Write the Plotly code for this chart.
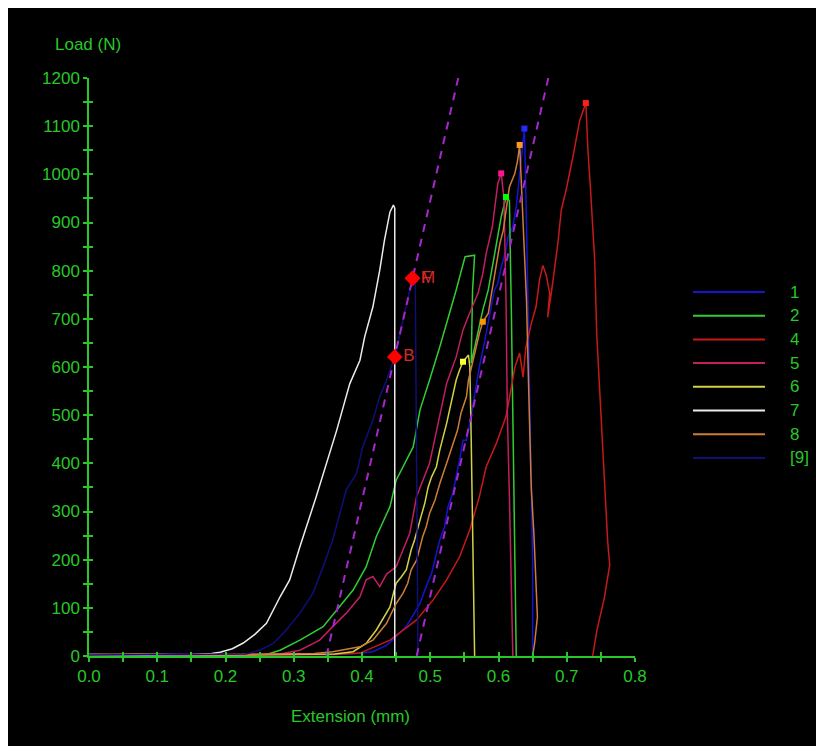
import plotly.graph_objects as go

# ---------------- data ----------------
series_names = ["1", "2", "4", "5", "6", "7", "8", "[9]"]

s1_x = [0.0, 0.06, 0.12, 0.2, 0.28, 0.35, 0.39, 0.416, 0.436, 0.450, 0.465, 0.475, 0.485, 0.494, 0.502,
        0.509, 0.514, 0.521, 0.526, 0.533, 0.538, 0.543, 0.548, 0.553, 0.558, 0.563, 0.567, 0.572, 0.580,
        0.587, 0.594, 0.599, 0.604, 0.611, 0.614, 0.621, 0.626, 0.631, 0.638, 0.641, 0.643, 0.646, 0.648,
        0.650, 0.650]
s1_y = [3, 2, 4, 3, 2, 3, 5, 9, 22, 40, 62, 85, 109, 144, 172,
        213, 241, 268, 310, 338, 372, 407, 448, 448, 483, 525, 566, 601, 656,
        705, 760, 773, 808, 843, 870, 891, 933, 1000, 1095, 900, 739, 550, 400,
        200, 0]

s2_x = [0.0, 0.08, 0.16, 0.22, 0.26, 0.28, 0.309, 0.343, 0.363, 0.387, 0.406, 0.421, 0.441, 0.450,
        0.475, 0.485, 0.499, 0.514, 0.538, 0.551, 0.565, 0.562, 0.560, 0.565, 0.572, 0.577, 0.585,
        0.594, 0.604, 0.611, 0.616, 0.619, 0.621, 0.624, 0.626]
s2_y = [2, 3, 2, 3, 3, 12, 33, 61, 95, 137, 185, 248, 310, 365,
        434, 511, 573, 642, 760, 829, 832, 760, 608, 640, 690, 718, 760,
        829, 912, 953, 945, 700, 450, 200, 0]

s4_x = [0.0, 0.1, 0.2, 0.3, 0.36, 0.397, 0.416, 0.441, 0.455, 0.480, 0.504, 0.524, 0.543, 0.558,
        0.572, 0.582, 0.597, 0.611, 0.619, 0.624, 0.631, 0.636, 0.640, 0.648, 0.655, 0.660, 0.665,
        0.670, 0.675, 0.672, 0.678, 0.687, 0.692, 0.699, 0.709, 0.719, 0.728, 0.731, 0.735, 0.741,
        0.744, 0.749, 0.754, 0.760, 0.763, 0.755, 0.744, 0.738]
s4_y = [2, 3, 2, 3, 3, 6, 17, 33, 48, 75, 116, 158, 206, 262,
        331, 393, 442, 497, 559, 600, 629, 579, 640, 690, 725, 780, 811,
        790, 753, 703, 760, 857, 926, 967, 1036, 1112, 1148, 1050, 965, 820,
        666, 527, 382, 237, 189, 120, 52, 0]

s5_x = [0.0, 0.1, 0.2, 0.28, 0.309, 0.338, 0.357, 0.377, 0.397, 0.406, 0.416, 0.426, 0.436, 0.450,
        0.470, 0.480, 0.499, 0.514, 0.524, 0.538, 0.548, 0.560, 0.570, 0.577, 0.582, 0.591, 0.599,
        0.604, 0.608, 0.611, 0.613, 0.616, 0.619, 0.621]
s5_y = [3, 2, 3, 4, 12, 33, 61, 89, 123, 158, 165, 144, 170, 185,
        255, 331, 400, 504, 566, 621, 677, 720, 753, 794, 836, 891, 981,
        1002, 950, 739, 500, 330, 100, 0]

s6_x = [0.0, 0.1, 0.2, 0.3, 0.36, 0.387, 0.406, 0.421, 0.436, 0.441, 0.446, 0.450, 0.458, 0.465,
        0.472, 0.477, 0.485, 0.492, 0.497, 0.502, 0.509, 0.514, 0.524, 0.533, 0.538, 0.543, 0.548,
        0.556, 0.558, 0.560, 0.562, 0.564, 0.565]
s6_y = [2, 3, 2, 3, 4, 9, 26, 54, 89, 102, 130, 151, 165, 179,
        220, 241, 282, 317, 351, 372, 393, 428, 483, 538, 573, 594, 611,
        625, 600, 450, 300, 150, 0]

s7_x = [0.0, 0.08, 0.15, 0.18, 0.192, 0.21, 0.226, 0.243, 0.26, 0.28, 0.294, 0.309, 0.333, 0.363,
        0.382, 0.397, 0.404, 0.416, 0.426, 0.433, 0.441, 0.446, 0.448, 0.448]
s7_y = [3, 2, 3, 5, 8, 15, 27, 45, 68, 123, 158, 227, 331, 469,
        565, 614, 663, 725, 801, 864, 922, 936, 930, 0]

s8_x = [0.0, 0.07, 0.14, 0.22, 0.3, 0.33, 0.357, 0.397, 0.416, 0.436, 0.450, 0.460, 0.467, 0.472,
        0.480, 0.489, 0.494, 0.499, 0.507, 0.514, 0.524, 0.533, 0.540, 0.545, 0.553, 0.556, 0.567,
        0.572, 0.577, 0.585, 0.589, 0.592, 0.599, 0.602, 0.607, 0.616, 0.624, 0.628, 0.631, 0.633,
        0.636, 0.639, 0.641, 0.645, 0.648, 0.652, 0.655, 0.657, 0.653, 0.650]
s8_y = [3, 4, 2, 3, 4, 5, 9, 19, 33, 68, 109, 130, 151, 179,
        199, 248, 268, 296, 324, 358, 400, 441, 469, 504, 538, 573, 642,
        670, 694, 711, 746, 773, 836, 856, 884, 974, 1002, 1029, 1061, 1000,
        900, 800, 739, 510, 350, 250, 165, 81, 27, 0]

s9_x = [0.0, 0.09, 0.17, 0.23, 0.25, 0.270, 0.289, 0.309, 0.328, 0.343, 0.357, 0.367, 0.377, 0.392,
        0.401, 0.416, 0.426, 0.436, 0.448, 0.460, 0.474, 0.478, 0.479, 0.481, 0.482]
s9_y = [2, 3, 3, 4, 12, 26, 54, 89, 130, 185, 241, 296, 345, 379,
        434, 490, 538, 573, 621, 697, 784, 780, 500, 200, 0]

# modulus (slope) lines
mod1_x = [0.348, 0.541]
mod1_y = [0, 1200]
mod2_x = [0.480, 0.673]
mod2_y = [0, 1200]

# labelled points (B, F, M) on series [9]
pt_labels = ["B", "F", "M"]
pt_x = [0.448, 0.474, 0.474]
pt_y = [621, 784, 784]

# highlighted peak points of each series
peak_x = [0.638, 0.611, 0.728, 0.604, 0.548, 0.631, 0.577]
peak_y = [1095, 953, 1148, 1002, 611, 1061, 694]
peak_col = ["rgb(40,40,255)", "rgb(0,255,0)", "rgb(255,30,30)", "rgb(255,20,140)",
            "rgb(255,255,60)", "rgb(255,150,40)", "rgb(255,150,0)"]

x_range = [0, 0.8]
y_range = [0, 1200]

# ---------------- style ----------------
colors = ["rgb(20,20,210)", "rgb(50,205,50)", "rgb(200,25,25)", "rgb(195,30,95)",
          "rgb(210,210,70)", "rgb(235,235,235)", "rgb(205,125,55)", "rgb(15,15,120)"]
GREEN = "rgb(40,200,40)"
FONT = "Liberation Sans"

OFF = 8                      # page (body) margin of the html page
W, H = 812, 738
L, R, T, B = 81, 185, 70, 90
pw, ph = W - L - R, H - T - B


def px_x(p):
    """page pixel x -> paper coordinate"""
    return (p - OFF - L) / pw


def px_y(p):
    """page pixel y -> paper coordinate"""
    return (OFF + H - B - p) / ph


xs = [s1_x, s2_x, s4_x, s5_x, s6_x, s7_x, s8_x, s9_x]
ys = [s1_y, s2_y, s4_y, s5_y, s6_y, s7_y, s8_y, s9_y]

fig = go.Figure()

for name, x, y, c in zip(series_names, xs, ys, colors):
    fig.add_trace(go.Scatter(x=x, y=y, mode="lines", name=name,
                             line=dict(color=c, width=1.5), showlegend=False))

for mx, my in [(mod1_x, mod1_y), (mod2_x, mod2_y)]:
    fig.add_trace(go.Scatter(x=mx, y=my, mode="lines", showlegend=False,
                             line=dict(color="rgb(165,40,205)", width=2, dash="8px,7px")))

fig.add_trace(go.Scatter(x=peak_x, y=peak_y, mode="markers", showlegend=False,
                         marker=dict(color=peak_col, size=6, symbol="square")))

fig.add_trace(go.Scatter(x=pt_x, y=pt_y, mode="markers+text", showlegend=False,
                         marker=dict(color="rgb(255,0,0)", size=12, symbol="diamond"),
                         text=pt_labels, textposition="middle right",
                         textfont=dict(family=FONT, size=17, color="rgb(215,40,40)")))

# dummy trace for the mirrored-tick axes
fig.add_trace(go.Scatter(x=x_range, y=y_range, xaxis="x2", yaxis="y2", mode="lines",
                         line=dict(width=0), hoverinfo="skip", showlegend=False))

tickfont = dict(family=FONT, size=17, color=GREEN)
common = dict(showgrid=False, zeroline=False, tickcolor=GREEN, ticklen=4, tickwidth=1.5)

fig.update_layout(
    width=W, height=H,
    margin=dict(l=L, r=R, t=T, b=B),
    paper_bgcolor="black", plot_bgcolor="black",
    xaxis=dict(range=x_range, dtick=0.1, tick0=0, tickformat=".1f", showline=True,
               linecolor=GREEN, linewidth=1.5, ticks="outside", tickfont=tickfont,
               minor=dict(dtick=0.05, ticks="outside", ticklen=4, tickcolor=GREEN, tickwidth=1.5),
               **common),
    yaxis=dict(range=y_range, dtick=100, tick0=0, showline=True, linecolor=GREEN,
               linewidth=1.5, ticks="outside", tickfont=tickfont,
               minor=dict(dtick=50, ticks="outside", ticklen=4, tickcolor=GREEN, tickwidth=1.5),
               **common),
    xaxis2=dict(range=x_range, overlaying="x", dtick=0.1, tick0=0, ticks="inside",
                showticklabels=False, showline=False,
                minor=dict(dtick=0.05, ticks="inside", ticklen=4, tickcolor=GREEN, tickwidth=1.5),
                **common),
    yaxis2=dict(range=y_range, overlaying="y", dtick=100, tick0=0, ticks="inside",
                showticklabels=False, showline=False,
                minor=dict(dtick=50, ticks="inside", ticklen=4, tickcolor=GREEN, tickwidth=1.5),
                **common),
    showlegend=False,
)

# axis titles
fig.add_annotation(text="Load (N)", x=px_x(88), y=px_y(45), xref="paper", yref="paper",
                   showarrow=False, xanchor="center", yanchor="middle",
                   font=dict(family=FONT, size=17, color=GREEN))
fig.add_annotation(text="Extension (mm)", x=px_x(350), y=px_y(716), xref="paper", yref="paper",
                   showarrow=False, xanchor="center", yanchor="middle",
                   font=dict(family=FONT, size=17, color=GREEN))

# custom legend
for i, (name, c) in enumerate(zip(series_names, colors)):
    yy = px_y(292 + i * 23.7)
    fig.add_shape(type="line", xref="paper", yref="paper", x0=px_x(693), x1=px_x(765),
                  y0=yy, y1=yy, line=dict(color=c, width=2))
    fig.add_annotation(text=name, x=px_x(788), y=yy, xref="paper", yref="paper",
                       showarrow=False, xanchor="left", yanchor="middle",
                       font=dict(family=FONT, size=17, color=GREEN))

fig.write_html("out.html")
